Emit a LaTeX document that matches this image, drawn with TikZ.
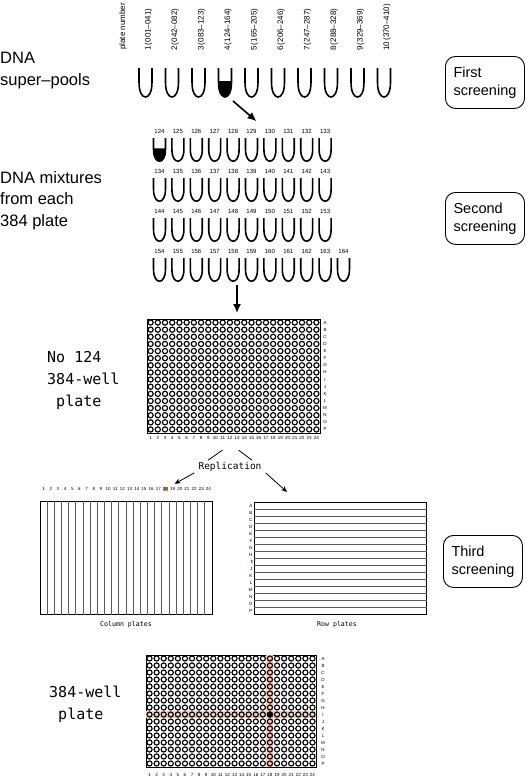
\documentclass[tikz,border=0pt]{standalone}
\usepackage{fontspec}
\setmainfont{Liberation Sans}
\newfontfamily\monofont{DejaVu Sans Mono}
\usetikzlibrary{arrows.meta,calc,positioning}
\definecolor{hilite}{RGB}{238,140,110}
\definecolor{band}{RGB}{249,205,185}
\tikzset{
tubeline/.style={line width=1.6pt}, % tube outline
well/.style={line width=1.15pt},
grid/.style={line width=0.8pt, black!65},
bigarrow/.style={line width=1.6pt, -{Latex[length=9pt,width=8pt]}},
thinarrow/.style={line width=0.8pt, -{Stealth[length=6pt,width=5pt]}},
sidelab/.style={font=\fontsize{16.5}{21.5}\selectfont, align=left, inner sep=0pt},
monolab/.style={font=\monofont\fontsize{15}{22}\selectfont, align=left, inner sep=0pt},
screen/.style={draw, rounded corners=10pt, line width=0.9pt, minimum width=79pt,
  minimum height=52pt, align=left, font=\fontsize{14.5}{18}\selectfont},
rotlab/.style={rotate=90, anchor=west, inner sep=0pt, font=\fontsize{8}{8}\selectfont},
tinynum/.style={font=\fontsize{6}{6}\selectfont, inner sep=0.5pt},
wellnum/.style={font=\fontsize{4.5}{4.5}\selectfont, inner sep=0.4pt},
platename/.style={font=\monofont\fontsize{6.6}{7}\selectfont},
plateframe/.style={draw, line width=1.1pt, inner sep=0pt, anchor=north west},
pics/tube/.style={code={
  \draw[tubeline] (-6.5,0) -- (-6.5,14) .. controls (-6.5,25) and (-3,29) .. (0,29)
    .. controls (3,29) and (6.5,25) .. (6.5,14) -- (6.5,0);}},
pics/fulltube/.style={code={
  \fill (-6.5,13) -- (-6.5,14) .. controls (-6.5,25) and (-3,29) .. (0,29)
    .. controls (3,29) and (6.5,25) .. (6.5,14) -- (6.5,13) -- cycle;
  \draw[tubeline] (-6.5,0) -- (-6.5,14) .. controls (-6.5,25) and (-3,29) .. (0,29)
    .. controls (3,29) and (6.5,25) .. (6.5,14) -- (6.5,0);}},
}

\begin{document}
\begin{tikzpicture}[x=1pt,y=-1pt]
\useasboundingbox (0,0) rectangle (526,777);

% first screening
\node[sidelab, anchor=north west] (pools) at (0,52) {DNA\\super–pools};
\node[rotlab] (platenum) at (123,50) {plate number};
\foreach \rng [count=\i, evaluate=\i as \x using 119+26.5*\i] in
  {001–041,042–082,083–123,124–164,165–205,206–246,247–287,288–328,329–369,370–410} {
  \node[rotlab] (spl\i) at (\x+3,51) {\i\,(\rng)};
  \ifnum\i=4 \pic at (\x,68) {fulltube}; \else \pic at (\x,68) {tube}; \fi
  \coordinate (sp\i) at (\x,97);
}
\node[screen, anchor=north west] (first) at (445,56) {First\\screening};

% second screening
\node[sidelab, anchor=north west] (mix) at (0,171) {DNA mixtures\\from each\\384 plate};
\foreach \r in {0,1,2,3} {
  \pgfmathtruncatemacro\last{\r==3 ? 10 : 9}
  \foreach \k in {0,...,\last} {
    \pgfmathtruncatemacro\num{124+10*\r+\k}
    \node[tinynum] (n\num) at (159.5+18.4*\k, 131+40*\r) {\num};
    \ifnum\num=124
      \pic[xscale=0.92,yscale=0.8] at (159.5+18.4*\k, 138+40*\r) {fulltube};
    \else
      \pic[xscale=0.92,yscale=0.8] at (159.5+18.4*\k, 138+40*\r) {tube};
    \fi
  }
}
\node[screen, anchor=north west] (second) at (445,192) {Second\\screening};
\draw[bigarrow] ($(sp4)+(8,4)$) -- ($(n129.north)+(5,-7)$);

% 384-well plate
\node[monolab, anchor=north west] (no124) at (47,351) {No 124\\384-well\\~plate};
\node[plateframe, minimum width=173pt, minimum height=114pt] (plate) at (147,319) {};
\foreach \c in {1,...,24} {
  \foreach \r in {1,...,16}
    \draw[well] (147+7.208*\c-3.604, 319+7.125*\r-3.5625) circle[radius=2.6pt];
  \node[wellnum] (pc\c) at (147+7.208*\c-3.6, 438) {\c};
}
\foreach \L [count=\r] in {A,...,P}
  \node[wellnum] (pr\r) at (325, 319+7.125*\r-3.5625) {\L};
\coordinate (mixout) at (237,285);
\draw[bigarrow] (mixout) -- ($(mixout |- plate.north)+(0,-6)$);

% replication
\node[font=\monofont\fontsize{9.5}{10}\selectfont, inner sep=1pt] (repl) at (230,467) {Replication};
\draw[line width=0.8pt] ($(plate.south)+(-11.5,16)$) -- ($(repl.north)+(-22,-1)$);
\draw[line width=0.8pt] ($(plate.south)+(4.5,16)$) -- ($(repl.north)+(22,-1)$);

% column plates
\node[plateframe, line width=0.9pt, minimum width=172pt, minimum height=113pt] (colpl) at (40,501) {};
\foreach \c in {1,...,23}
  \draw[grid] ($(colpl.north west)+(7.167*\c,0)$) -- ($(colpl.south west)+(7.167*\c,0)$);
\foreach \c in {1,...,24} {
  \ifnum\c=18
    \node[wellnum, fill=hilite] (cn\c) at (40+7.167*\c-3.58, 489) {\c};
  \else
    \node[wellnum] (cn\c) at (40+7.167*\c-3.58, 489) {\c};
  \fi
}
\node[platename] (colname) at (126,625) {Column plates};

% row plates
\node[plateframe, line width=0.9pt, minimum width=172pt, minimum height=112pt] (rowpl) at (254,502) {};
\foreach \r in {1,...,15}
  \draw[grid] ($(rowpl.north west)+(0,7*\r)$) -- ($(rowpl.north east)+(0,7*\r)$);
\foreach \L [count=\r] in {A,...,P} {
  \ifnum\r=9
    \node[wellnum, fill=hilite!70, anchor=east] (rn\r) at (253, 502+7*\r-3.5) {\L};
  \else
    \node[wellnum, anchor=east] (rn\r) at (253, 502+7*\r-3.5) {\L};
  \fi
}
\node[platename] (rowname) at (337,625) {Row plates};
\node[screen, anchor=north west] (third) at (443,535) {Third\\screening};

\draw[thinarrow] ($(repl.south west)+(-3,0)$) -- ($(cn19.north)+(2,-3)$);
\draw[thinarrow] ($(repl.south east)+(3,0)$) -- ($(rowpl.north west)+(33,-10)$);

% final 384-well plate
\node[monolab, anchor=north west] (final) at (49,686) {384-well\\~plate};
\node[plateframe, minimum width=170pt, minimum height=112pt] (fplate) at (146,655) {};
\fill[band] (146+7.083*17,655) rectangle (146+7.083*18,767);
\fill[band] (146,655+7*8) rectangle (316,655+7*9);
\foreach \c in {1,...,24} {
  \foreach \r in {1,...,16}
    \draw[well] (146+7.083*\c-3.54, 655+7*\r-3.5) circle[radius=2.55pt];
  \node[wellnum] (fc\c) at (146+7.083*\c-3.54, 774.5) {\c};
}
\fill (146+7.083*18-3.54, 655+7*9-3.5) circle[radius=3.2pt];
\foreach \L [count=\r] in {A,...,P}
  \node[wellnum] (fr\r) at (323, 655+7*\r-3.5) {\L};
\end{tikzpicture}
\end{document}
